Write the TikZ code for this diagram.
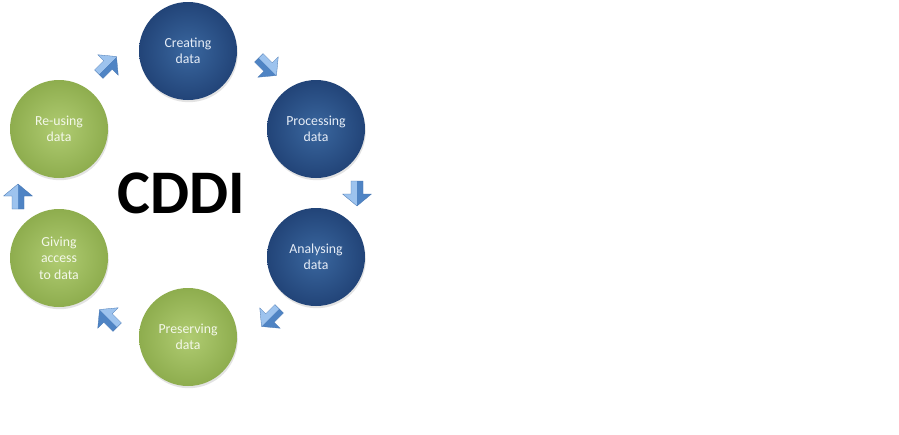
\documentclass[tikz,border=0pt]{standalone}
\usepackage{fontspec}
\setmainfont{Carlito}
\usetikzlibrary{shadows}
\definecolor{bluein}{HTML}{3A679F}
\definecolor{blueout}{HTML}{224478}
\definecolor{greenin}{HTML}{B0CC72}
\definecolor{greenout}{HTML}{8EAD4E}
\definecolor{arrlight}{HTML}{9DC3EE}
\definecolor{arrdark}{HTML}{4F84C4}
\definecolor{arredge}{HTML}{4474B0}
\definecolor{bluetext}{HTML}{E6EDF7}
\definecolor{greentext}{HTML}{F4F8EA}
\tikzset{
  stage/.style={circle, minimum size=98pt, inner sep=0pt, align=center,
    font=\fontsize{13.8}{16.3}\selectfont,
    drop shadow={opacity=0.22, shadow xshift=0.8pt, shadow yshift=-2.2pt}},
  bluestage/.style={stage, inner color=bluein, outer color=blueout, text=bluetext},
  greenstage/.style={stage, inner color=greenin, outer color=greenout, text=greentext},
  pics/blockarr/.style 2 args={code={
    \fill[#1] (-13,0) -- (-13,6) -- (0,6) -- (0,14.5) -- (12,0) -- cycle;
    \fill[#2] (-13,0) -- (-13,-6) -- (0,-6) -- (0,-14.5) -- (12,0) -- cycle;
    \draw[arredge, line width=0.3pt, line join=round] (-13,-6) -- (0,-6) -- (0,-14.5) -- (12,0) -- (0,14.5) -- (0,6) -- (-13,6) -- cycle;
  }}
}
\begin{document}
\begin{tikzpicture}[x=1pt, y=-1pt]
\useasboundingbox (0,0) rectangle (899,434);
\fill[white] (0,0) rectangle (899,434);

\node[bluestage] (creating) at (188,51) {Creating\\data};
\node[bluestage] (processing) at (316,129) {Processing\\data};
\node[bluestage] (analysing) at (316,257) {Analysing\\data};
\node[greenstage] (preserving) at (188,337) {Preserving\\data};
\node[greenstage] (giving) at (59,258) {Giving\\access\\to data};
\node[greenstage] (reusing) at (59,129) {Re-using\\data};

\node[inner sep=0pt, font=\fontsize{62}{62}\selectfont\bfseries] (cddi) at (181,193) {CDDI};

\pic[rotate=45] (a1) at (108,65) {blockarr={arrdark}{arrlight}};
\pic[rotate=-45] (a2) at (268,67) {blockarr={arrdark}{arrlight}};
\pic[rotate=-90] (a3) at (357,194) {blockarr={arrlight}{arrdark}};
\pic[rotate=-135] (a4) at (270,318) {blockarr={arrlight}{arrdark}};
\pic[rotate=135] (a5) at (108,318) {blockarr={arrlight}{arrdark}};
\pic[rotate=90] (a6) at (18,196) {blockarr={arrdark}{arrlight}};
\end{tikzpicture}
\end{document}
